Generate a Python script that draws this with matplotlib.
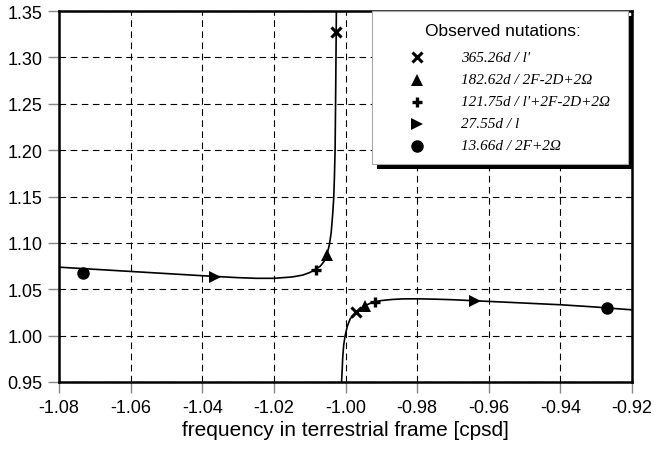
import matplotlib
matplotlib.use("Agg")
import matplotlib.pyplot as plt
from matplotlib.patches import Rectangle
from matplotlib.lines import Line2D

# curve: branch below and above the resonance
left_f = [-1.080, -1.070, -1.060, -1.050, -1.040, -1.030, -1.025, -1.020, -1.015,
          -1.012, -1.010, -1.0085, -1.007, -1.006, -1.0052, -1.0045, -1.0040,
          -1.0036, -1.0033, -1.0031, -1.0029, -1.0028, -1.0027, -1.0026, -1.00255]
left_v = [1.0738, 1.0715, 1.0692, 1.0669, 1.0646, 1.0625, 1.0618, 1.0618, 1.0632,
          1.0652, 1.0680, 1.0712, 1.0750, 1.0800, 1.0870, 1.0980, 1.1110,
          1.1300, 1.1474, 1.1700, 1.2010, 1.2400, 1.2800, 1.3270, 1.3500]
right_f = [-1.0011, -1.0009, -1.0008, -1.0005, -1.0001, -0.9995, -0.9987, -0.9978,
           -0.9970, -0.9958, -0.9945, -0.9930, -0.9917, -0.9900, -0.9870, -0.9840,
           -0.9800, -0.9750, -0.9700, -0.9640, -0.9550, -0.9450, -0.9396, -0.9300,
           -0.9269, -0.9200]
right_v = [0.950, 0.965, 0.975, 0.990, 1.000, 1.010, 1.018, 1.022,
           1.0253, 1.0290, 1.0324, 1.0350, 1.0367, 1.0378, 1.0390, 1.0396,
           1.0397, 1.0393, 1.0387, 1.0376, 1.0360, 1.0342, 1.0332, 1.0308,
           1.0298, 1.0278]

# observed nutations (prograde / retrograde)
labels = ["365.26d / l'", "182.62d / 2F-2D+2\u03a9", "121.75d / l'+2F-2D+2\u03a9",
          "27.55d / l", "13.66d / 2F+2\u03a9"]
markers = ["x", "^", "+", ">", "o"]
obs_f = [[-1.0026, -0.9970], [-1.0052, -0.9945], [-1.0082, -0.9917],
         [-1.0364, -0.9638], [-1.0732, -0.9269]]
obs_v = [[1.327, 1.0253], [1.087, 1.0324], [1.0712, 1.0367],
         [1.063, 1.0375], [1.068, 1.0296]]
msizes = [6.5, 8.5, 7.5, 8.5, 9]
mews = [2.2, 0, 2.4, 0, 0]

xticks = [-1.08, -1.06, -1.04, -1.02, -1.00, -0.98, -0.96, -0.94, -0.92]
yticks = [0.95, 1.00, 1.05, 1.10, 1.15, 1.20, 1.25, 1.30, 1.35]

plt.rcParams['font.family'] = ['Liberation Sans', 'DejaVu Sans']

W, H = 654, 452
fig = plt.figure(figsize=(W / 100, H / 100), dpi=100)
ax = fig.add_axes([59 / W, 1 - 383 / H, (632 - 59) / W, (383 - 12) / H])

ax.plot(left_f, left_v, color='black', lw=1.2, zorder=3)
ax.plot(right_f, right_v, color='black', lw=1.2, zorder=3)
for m, fx, vy, ms, mw in zip(markers, obs_f, obs_v, msizes, mews):
    ax.plot(fx, vy, linestyle='none', marker=m, color='black', ms=ms, mew=mw, zorder=4)

ax.set_xlim(-1.08, -0.92)
ax.set_ylim(0.95, 1.35)
ax.set_xticks(xticks)
ax.set_xticklabels([f"{t:.2f}" for t in xticks])
ax.set_yticks(yticks)
ax.set_yticklabels([f"{t:.2f}" for t in yticks])
ax.tick_params(direction='out', length=8, width=1, color='#888888', labelsize=13, pad=4)
ax.grid(True, color='black', linestyle=(0, (6, 4)), linewidth=0.8)
for s in ax.spines.values():
    s.set_linewidth(1.8)
ax.set_xlabel("frequency in terrestrial frame [cpsd]", fontsize=15, labelpad=3)

# legend box drawn by hand, with black drop shadow
def fx_(px):
    return px / W

def fy_(py):
    return 1 - py / H

fig.patches.append(Rectangle((fx_(377), fy_(170)), (628 - 372) / W, (165 - 12) / H,
                             transform=fig.transFigure, facecolor='black',
                             edgecolor='none', zorder=5))
fig.patches.append(Rectangle((fx_(372), fy_(165)), (628 - 372) / W, (165 - 12) / H,
                             transform=fig.transFigure, facecolor='white',
                             edgecolor='#aaaaaa', lw=0.8, zorder=6))
fig.text(fx_(503), fy_(31), "Observed nutations:", ha='center', va='center',
         fontsize=12.5, zorder=7)
rows = [58, 81, 103, 125, 147]
for lab, m, ms, mw, ry in zip(labels, markers, msizes, mews, rows):
    fig.add_artist(Line2D([fx_(417)], [fy_(ry)], marker=m, color='black', ms=ms,
                          mew=mw, linestyle='none', transform=fig.transFigure, zorder=7))
    fig.text(fx_(461), fy_(ry), lab, ha='left', va='center', fontsize=11,
             family='Liberation Serif', style='italic', zorder=7)

fig.savefig("out.png", dpi=100)
